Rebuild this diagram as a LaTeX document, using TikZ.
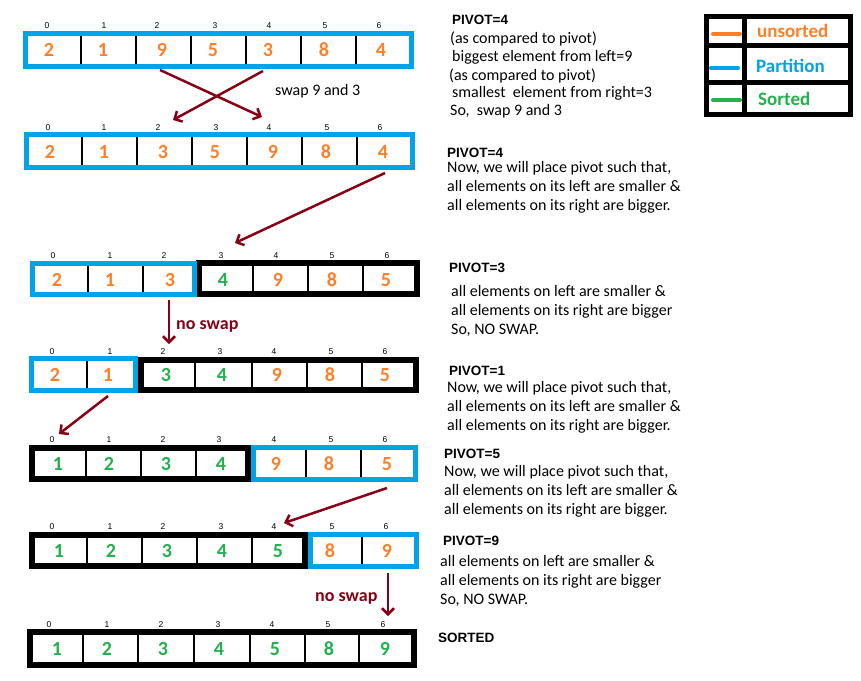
\documentclass[tikz,border=0pt]{standalone}
\usepackage{fontspec}
\setmainfont{Carlito}
\newfontfamily\arialf{Liberation Sans}
\usetikzlibrary{arrows.meta}
\definecolor{uorange}{RGB}{255,127,39}
\definecolor{ublue}{RGB}{0,162,232}
\definecolor{ugreen}{RGB}{34,177,76}
\definecolor{umaroon}{RGB}{136,0,21}
\tikzset{
  dig/.style={font=\bfseries\fontsize{20}{20}\selectfont, inner sep=0pt, text height=13pt, text depth=0pt},
  idx/.style={font=\arialf\fontsize{8.5}{9}\selectfont, inner sep=0pt, text height=6pt, text depth=0pt},
  txt/.style={font=\fontsize{16}{19}\selectfont, inner sep=0pt, anchor=base west},
  piv/.style={font=\arialf\bfseries\fontsize{13.5}{15}\selectfont, inner sep=0pt, anchor=base west},
  lbl/.style={font=\bfseries\fontsize{18}{20}\selectfont, text=umaroon, inner sep=0pt, anchor=base west},
  leg/.style={font=\bfseries\fontsize{19}{20}\selectfont, inner sep=0pt, anchor=base west},
  arr/.style={umaroon, line width=2.5pt, -{Straight Barb[length=6pt,width=12pt]}},
  bbox/.style={ublue, line width=5pt},
  kbox/.style={black, line width=6pt},
  divline/.style={black, line width=2.2pt},
  thinblue/.style={ublue, line width=1pt},
  legline/.style={line width=4pt, line cap=round}
}
\begin{document}
\begin{tikzpicture}[x=1pt,y=-1pt]
\useasboundingbox (0,0) rectangle (861,680);
\fill[white] (0,0) rectangle (861,680);

% ---------- Row 1 ----------
\foreach \d in {81,136,191,246,301,356} \draw[divline] (\d,35) -- (\d,65);
\draw[bbox] (25.5,33.5) rectangle (411.5,66.5);
\foreach \x [count=\i from 0] in {47,104,157,215,269,325,379} \node[idx] (r1i\i) at (\x,25) {\i};
\foreach \x/\v/\c [count=\i from 0] in {49/2/uorange,103/1/uorange,162/9/uorange,213/5/uorange,268/3/uorange,324/8/uorange,381/4/uorange}
  \node[dig,text=\c] (r1n\i) at (\x,50) {\v};

% ---------- Row 2 ----------
\foreach \d in {82,137,192,247,302,357} \draw[divline] (\d,136) -- (\d,166);
\draw[bbox] (26.5,134.5) rectangle (412.5,167.5);
\foreach \x [count=\i from 0] in {48,104,158,216,269,327,380} \node[idx] (r2i\i) at (\x,127) {\i};
\foreach \x/\v/\c [count=\i from 0] in {50/2/uorange,104/1/uorange,163/3/uorange,215/5/uorange,273/9/uorange,326/8/uorange,383/4/uorange}
  \node[dig,text=\c] (r2n\i) at (\x,152) {\v};

% ---------- Row 3 ----------
\foreach \d in {88,143,253,308,363} \draw[divline] (\d,264) -- (\d,294);
\draw[kbox] (199,263) rectangle (417,294);
\draw[bbox] (32.5,263.5) rectangle (194.5,294.5);
\foreach \x [count=\i from 0] in {53,110,164,221,276,332,387} \node[idx] (r3i\i) at (\x,255) {\i};
\foreach \x/\v/\c [count=\i from 0] in {57/2/uorange,110/1/uorange,170/3/uorange,223/4/ugreen,278/9/uorange,332/8/uorange,386/5/uorange}
  \node[dig,text=\c] (r3n\i) at (\x,280) {\v};

% ---------- Row 4 ----------
\foreach \d in {87,195,252,307,362} \draw[divline] (\d,359) -- (\d,390);
\draw[kbox] (141,360) rectangle (416,390);
\draw[bbox] (31.5,358.5) rectangle (135.5,390.5);
\foreach \x [count=\i from 0] in {52,110,163,220,274,331,385} \node[idx] (r4i\i) at (\x,351) {\i};
\foreach \x/\v/\c [count=\i from 0] in {55/2/uorange,108/1/uorange,166/3/ugreen,222/4/ugreen,277/9/uorange,330/8/uorange,385/5/uorange}
  \node[dig,text=\c] (r4n\i) at (\x,375) {\v};

% ---------- Row 5 ----------
\foreach \d in {86,141,196,306,361} \draw[divline] (\d,448) -- (\d,479);
\draw[kbox] (32,448) rectangle (248,479);
\draw[bbox] (253.5,447.5) rectangle (415.5,479.5);
\foreach \x [count=\i from 0] in {52,109,163,219,274,331,385} \node[idx] (r5i\i) at (\x,439) {\i};
\foreach \x/\v/\c [count=\i from 0] in {58/1/ugreen,109/2/ugreen,166/3/ugreen,221/4/ugreen,276/9/uorange,329/8/uorange,387/5/uorange}
  \node[dig,text=\c] (r5n\i) at (\x,464) {\v};

% ---------- Row 6 ----------
\foreach \d in {87,142,197,252,362} \draw[divline] (\d,535) -- (\d,566);
\draw[thinblue] (252,564) -- (303,564);
\draw[kbox] (32,535) rectangle (305,566);
\draw[bbox] (310.5,534.5) rectangle (416.5,566.5);
\foreach \x [count=\i from 0] in {52,110,163,221,274,332,386} \node[idx] (r6i\i) at (\x,526) {\i};
\foreach \x/\v/\c [count=\i from 0] in {59/1/ugreen,111/2/ugreen,167/3/ugreen,222/4/ugreen,278/5/ugreen,330/8/uorange,387/9/uorange}
  \node[dig,text=\c] (r6n\i) at (\x,551) {\v};

% ---------- Row 7 ----------
\foreach \d in {83,138,194,250,305,359} \draw[divline] (\d,632) -- (\d,665);
\draw[thinblue] (293,634.5) -- (411,634.5);
\draw[thinblue] (248,663) -- (300,663);
\draw[thinblue] (305,663) -- (411,663);
\draw[kbox] (30,632) rectangle (414,665);
\foreach \x [count=\i from 0] in {49,107,161,218,272,328,383} \node[idx] (r7i\i) at (\x,624) {\i};
\foreach \x/\v/\c [count=\i from 0] in {57/1/ugreen,107/2/ugreen,163/3/ugreen,219/4/ugreen,275/5/ugreen,329/8/ugreen,385/9/ugreen}
  \node[dig,text=\c] (r7n\i) at (\x,649) {\v};

% ---------- Arrows ----------
\coordinate (a1s) at (160,70);  \coordinate (a1e) at (262,117);
\coordinate (a2s) at (263,71);  \coordinate (a2e) at (173,120);
\coordinate (a3s) at (385,173); \coordinate (a3e) at (235,243);
\coordinate (a4s) at (169,300); \coordinate (a4e) at (169,344);
\coordinate (a5s) at (108,396); \coordinate (a5e) at (59,434);
\coordinate (a6s) at (387,488); \coordinate (a6e) at (284,523);
\coordinate (a7s) at (388,573); \coordinate (a7e) at (388,616);
\draw[arr] (a1s) -- (a1e);
\draw[arr] (a2s) -- (a2e);
\draw[arr] (a3s) -- (a3e);
\draw[arr] (a4s) -- (a4e);
\draw[arr] (a5s) -- (a5e);
\draw[arr] (a6s) -- (a6e);
\draw[arr] (a7s) -- (a7e);

\node[txt] (swap93) at (275,95) {swap 9 and 3};
\node[lbl] (noswap1) at (176,329) {no swap};
\node[lbl] (noswap2) at (315,601) {no swap};

% ---------- Right-hand notes ----------
\node[piv] (p1) at (452,24) {PIVOT=4};
\node[txt] (p1a) at (450,43) {(as compared to pivot)};
\node[txt] (p1b) at (452,61) {biggest element from left=9};
\node[txt] (p1c) at (449,80) {(as compared to pivot)};
\node[txt] (p1d) at (452,97) {smallest\ \ element from right=3};
\node[txt] (p1e) at (450,115) {So,\ \ swap 9 and 3};

\node[piv] (p2) at (447,157) {PIVOT=4};
\node[txt] (p2a) at (447,172) {Now, we will place pivot such that,};
\node[txt] (p2b) at (447,191) {all elements on its left are smaller \&};
\node[txt] (p2c) at (447,210) {all elements on its right are bigger.};

\node[piv] (p3) at (449,272) {PIVOT=3};
\node[txt] (p3a) at (451,296) {all elements on left are smaller \&};
\node[txt] (p3b) at (451,315) {all elements on its right are bigger};
\node[txt] (p3c) at (451,334) {So, NO SWAP.};

\node[piv] (p4) at (449,375) {PIVOT=1};
\node[txt] (p4a) at (447,392) {Now, we will place pivot such that,};
\node[txt] (p4b) at (447,411) {all elements on its left are smaller \&};
\node[txt] (p4c) at (447,430) {all elements on its right are bigger.};

\node[piv] (p5) at (444,458) {PIVOT=5};
\node[txt] (p5a) at (444,476) {Now, we will place pivot such that,};
\node[txt] (p5b) at (444,495) {all elements on its left are smaller \&};
\node[txt] (p5c) at (444,514) {all elements on its right are bigger.};

\node[piv] (p6) at (443,545) {PIVOT=9};
\node[txt] (p6a) at (440,566) {all elements on left are smaller \&};
\node[txt] (p6b) at (440,585) {all elements on its right are bigger};
\node[txt] (p6c) at (440,604) {So, NO SWAP.};

\node[piv] (p7) at (438,642) {SORTED};

% ---------- Legend ----------
\draw[black, line width=5pt] (744,16.5) -- (744,114.5);
\draw[black, line width=5pt] (706.5,45.5) -- (850.5,45.5);
\draw[black, line width=5pt] (706.5,82.5) -- (850.5,82.5);
\draw[black, line width=5pt] (706.5,16.5) rectangle (850.5,114.5);
\draw[legline, uorange] (713,34) -- (740,34);
\draw[legline, ublue] (711,68) -- (738,68);
\draw[legline, ugreen] (713,100) -- (740,100);
\node[leg, text=uorange] (lg1) at (757,37) {unsorted};
\node[leg, text=ublue] (lg2) at (756,72) {Partition};
\node[leg, text=ugreen] (lg3) at (758,105) {Sorted};
\end{tikzpicture}
\end{document}
